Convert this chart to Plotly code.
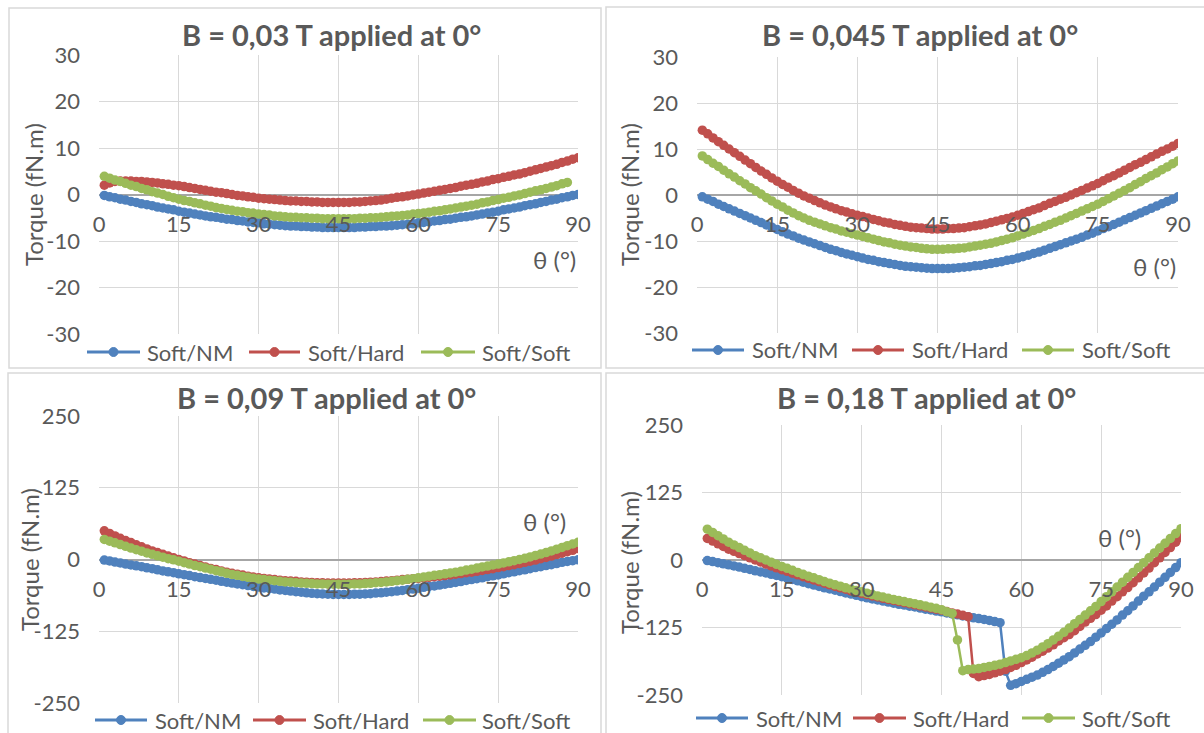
import plotly.graph_objects as go

theta = list(range(1, 91))
theta_p1_soft = list(range(1, 89))

# ---- Panel 1 : B = 0,03 T ----
p1_nm = [-0.2, -0.5, -0.7, -1.0, -1.2, -1.5, -1.7, -2.0, -2.2, -2.4, -2.7, -2.9, -3.1, -3.3, -3.6, -3.8, -4.0, -4.2, -4.4, -4.6,
         -4.8, -4.9, -5.1, -5.3, -5.4, -5.6, -5.7, -5.9, -6.0, -6.1, -6.3, -6.4, -6.5, -6.6, -6.7, -6.8, -6.8, -6.9, -6.9, -7.0,
         -7.0, -7.1, -7.1, -7.1, -7.1, -7.1, -7.1, -7.1, -7.0, -7.0, -6.9, -6.9, -6.8, -6.8, -6.7, -6.6, -6.5, -6.4, -6.3, -6.1,
         -6.0, -5.9, -5.7, -5.6, -5.4, -5.3, -5.1, -4.9, -4.8, -4.6, -4.4, -4.2, -4.0, -3.8, -3.6, -3.3, -3.1, -2.9, -2.7, -2.4,
         -2.2, -2.0, -1.7, -1.5, -1.2, -1.0, -0.7, -0.5, -0.2, 0.0]
p1_hard = [2.0, 2.5, 2.8, 2.9, 2.9, 2.9, 2.8, 2.8, 2.7, 2.6, 2.5, 2.3, 2.2, 2.0, 1.9, 1.7, 1.5, 1.3, 1.1, 0.9,
           0.7, 0.5, 0.4, 0.2, 0.0, -0.2, -0.3, -0.5, -0.6, -0.8, -0.9, -1.0, -1.1, -1.2, -1.3, -1.4, -1.4, -1.5, -1.5, -1.6,
           -1.6, -1.7, -1.7, -1.7, -1.7, -1.7, -1.7, -1.6, -1.6, -1.5, -1.4, -1.3, -1.2, -1.0, -0.8, -0.6, -0.5, -0.3, -0.1, 0.1,
           0.3, 0.5, 0.7, 0.9, 1.1, 1.3, 1.5, 1.8, 2.0, 2.2, 2.4, 2.7, 2.9, 3.2, 3.4, 3.7, 3.9, 4.2, 4.4, 4.7,
           5.0, 5.3, 5.6, 5.9, 6.2, 6.5, 6.9, 7.2, 7.6, 7.9]
p1_soft = [3.9, 3.5, 3.1, 2.8, 2.4, 2.0, 1.7, 1.3, 1.0, 0.6, 0.3, 0.0, -0.4, -0.7, -1.0, -1.3, -1.5, -1.8, -2.0, -2.3,
           -2.5, -2.8, -3.0, -3.2, -3.4, -3.6, -3.7, -3.9, -4.0, -4.2, -4.3, -4.4, -4.6, -4.7, -4.8, -4.9, -4.9, -5.0, -5.0, -5.1,
           -5.1, -5.2, -5.2, -5.2, -5.2, -5.2, -5.2, -5.2, -5.1, -5.1, -5.0, -5.0, -4.9, -4.8, -4.7, -4.6, -4.5, -4.4, -4.2, -4.1,
           -4.0, -3.8, -3.6, -3.5, -3.3, -3.1, -2.9, -2.7, -2.5, -2.3, -2.1, -1.8, -1.6, -1.3, -1.1, -0.8, -0.6, -0.3, -0.1, 0.2,
           0.5, 0.8, 1.0, 1.3, 1.6, 1.9, 2.3, 2.6]

# ---- Panel 2 : B = 0,045 T ----
p2_nm = [-0.4, -0.9, -1.4, -2.0, -2.5, -3.0, -3.5, -4.0, -4.5, -5.0, -5.5, -6.0, -6.5, -7.0, -7.5, -8.0, -8.5, -8.9, -9.4, -9.8,
         -10.2, -10.6, -11.0, -11.4, -11.8, -12.1, -12.5, -12.8, -13.1, -13.4, -13.7, -14.0, -14.2, -14.5, -14.7, -14.9, -15.1, -15.3, -15.5, -15.6,
         -15.7, -15.8, -15.9, -16.0, -16.0, -16.0, -16.0, -15.9, -15.8, -15.7, -15.6, -15.4, -15.3, -15.1, -14.9, -14.7, -14.5, -14.2, -14.0, -13.7,
         -13.4, -13.1, -12.7, -12.4, -12.0, -11.6, -11.2, -10.8, -10.4, -10.0, -9.6, -9.2, -8.7, -8.3, -7.8, -7.3, -6.9, -6.4, -5.9, -5.4,
         -4.9, -4.4, -3.9, -3.4, -2.9, -2.4, -1.9, -1.4, -0.9, -0.4]
p2_hard = [14.1, 13.3, 12.4, 11.6, 10.8, 10.0, 9.2, 8.4, 7.6, 6.8, 6.0, 5.2, 4.5, 3.7, 3.0, 2.3, 1.7, 1.0, 0.4, -0.2,
           -0.7, -1.2, -1.7, -2.2, -2.6, -3.0, -3.4, -3.7, -4.1, -4.4, -4.7, -5.0, -5.3, -5.6, -5.9, -6.1, -6.4, -6.6, -6.8, -7.0,
           -7.1, -7.2, -7.3, -7.4, -7.4, -7.4, -7.3, -7.3, -7.2, -7.1, -6.9, -6.7, -6.5, -6.3, -6.0, -5.7, -5.4, -5.1, -4.8, -4.4,
           -4.0, -3.6, -3.2, -2.8, -2.3, -1.8, -1.4, -0.9, -0.5, 0.0, 0.5, 1.0, 1.5, 2.0, 2.5, 3.1, 3.7, 4.2, 4.8, 5.4,
           6.0, 6.6, 7.1, 7.7, 8.3, 8.9, 9.5, 10.0, 10.6, 11.2]
p2_soft = [8.5, 7.7, 6.9, 6.2, 5.4, 4.6, 3.9, 3.1, 2.4, 1.6, 0.9, 0.2, -0.6, -1.3, -2.0, -2.6, -3.3, -3.9, -4.5, -5.0,
           -5.5, -5.9, -6.3, -6.7, -7.1, -7.4, -7.8, -8.1, -8.4, -8.7, -9.0, -9.3, -9.6, -9.9, -10.2, -10.4, -10.7, -10.9, -11.1, -11.3,
           -11.4, -11.6, -11.7, -11.8, -11.8, -11.8, -11.7, -11.7, -11.6, -11.5, -11.3, -11.1, -10.9, -10.7, -10.5, -10.2, -9.9, -9.6, -9.3, -8.9,
           -8.5, -8.1, -7.7, -7.3, -6.8, -6.4, -5.9, -5.5, -5.0, -4.5, -4.0, -3.5, -3.0, -2.5, -2.0, -1.4, -0.8, -0.2, 0.4, 1.0,
           1.6, 2.3, 2.9, 3.6, 4.2, 4.8, 5.5, 6.1, 6.8, 7.4]

# ---- Panel 3 : B = 0,09 T ----
p3_nm = [-1, -2.5, -4.5, -6, -8, -9.5, -11, -12.5, -14.5, -16, -18, -20, -21.5, -23, -25, -26.5, -28, -30, -31.5, -33,
         -34.5, -36, -38, -39.5, -41, -42.5, -44, -45.5, -47, -48, -49.5, -50.5, -51.5, -53, -54, -55, -56, -57, -58, -59,
         -59.5, -60, -60.5, -61, -61, -61, -61, -60.5, -60.5, -60, -59.5, -58.5, -58, -57, -56, -55, -54, -52.5, -51.5, -50,
         -48.5, -47, -46, -44.5, -43, -41.5, -40, -38.5, -36.5, -35, -33.5, -32, -30, -28.5, -27, -25, -23, -21.5, -19.5, -18,
         -16, -14, -12.5, -10.5, -9, -7, -5, -3.5, -2, -0.5]
p3_hard = [50, 45.5, 41, 37, 33, 29.5, 25.5, 22, 18.5, 15, 12, 9, 6, 3, 0, -2.5, -5.5, -8, -10.5, -13,
           -15.5, -17.5, -20, -22, -24, -25.5, -27, -29, -30.5, -32, -33, -34, -35, -36, -37, -37.5, -38, -39, -39.5, -40,
           -40.5, -40.5, -41, -41, -41, -41, -41, -40.5, -40.5, -40, -39.5, -39, -38.5, -37.5, -37, -36, -35, -34.5, -33.5, -33,
           -32, -31, -30, -29, -28, -27, -25.5, -24.5, -23, -22, -20.5, -19, -17.5, -16, -14, -12.5, -10.5, -9, -7, -5,
           -3, -1, 1.5, 3.5, 6, 8.5, 11, 13.5, 16, 19]
p3_soft = [35, 32, 29, 26, 23, 20, 17, 14.5, 11.5, 9, 6.5, 4, 1.5, -0.5, -3, -5.5, -8, -10.5, -12.5, -15,
           -17, -19.5, -21.5, -24, -26, -27.5, -29.5, -31, -32.5, -34, -35, -36, -37, -38, -39, -39.5, -40.5, -41, -41.5, -42,
           -42.5, -42.5, -43, -43, -43, -43, -43, -42.5, -42.5, -42, -41.5, -40.5, -40, -39, -38, -37, -36, -34.5, -33.5, -32,
           -30.5, -29, -27.5, -26.5, -25, -23.5, -22, -20.5, -18.5, -17, -15, -13, -11.5, -9.5, -8, -6, -4, -2, 0, 2,
           4.5, 7, 9.5, 12, 15, 18, 21, 24, 27, 30]

# ---- Panel 4 : B = 0,18 T ----
p4_nm = [-1, -3, -5, -7, -9, -11, -13, -15.5, -17.5, -20, -22, -24, -26.5, -28.5, -31, -33.5, -36, -38.5, -41, -44,
         -46.5, -49, -51.5, -53.5, -56, -58.5, -61, -63, -65.5, -68, -70, -72, -74, -76, -78, -80, -82, -83.5, -85.5, -87,
         -89, -91, -92.5, -94.5, -96, -98, -100, -101.5, -103.5, -105, -107, -108.5, -110, -112, -114, -116, -206, -232, -229, -225,
         -221, -217, -213, -208, -203, -197, -191, -185, -179, -172, -165, -158, -151, -143, -135, -127, -119, -111, -102, -94,
         -85, -76, -67, -59, -50, -41, -32, -23, -14, -5]
p4_hard = [40, 35, 30, 25, 20, 16, 12, 8, 4, 0, -3.5, -7.5, -11, -14.5, -18, -21, -24.5, -27.5, -31, -34,
           -37, -40, -43, -46, -49, -51.5, -54, -57, -59.5, -62, -64, -66.5, -68.5, -71, -73, -75, -77, -79, -81, -83,
           -85, -87, -89, -91, -93, -95.5, -98, -100, -102.5, -105, -210, -216, -214, -212, -209, -206, -203, -199, -195, -190,
           -185, -180, -174, -169, -163, -157, -150, -144, -138, -131, -123, -115, -108, -101, -93, -85, -76, -68, -59, -51,
           -42, -33, -24, -15, -5, 4, 14, 23, 33, 42]
p4_soft = [57, 51, 45, 39, 33, 28, 23, 18, 13, 8, 4, 0, -4, -8, -12, -15.5, -19, -23, -26.5, -30,
           -33, -36.5, -40, -43, -46, -48.5, -51.5, -54, -56.5, -59, -61.5, -64, -66.5, -68.5, -71, -73, -75, -77, -79, -81,
           -83, -85, -87.5, -89.5, -92, -96, -99, -148, -205, -203, -202, -201, -199, -197, -195, -193, -190, -187, -184, -181,
           -177, -172, -167, -161, -155, -148, -141, -134, -126, -118, -110, -102, -94, -86, -77, -68, -59, -50, -41, -32,
           -23, -14, -5, 4, 13, 22, 31, 40, 49, 58]

titles = ["B = 0,03 T applied at 0°", "B = 0,045 T applied at 0°",
          "B = 0,09 T applied at 0°", "B = 0,18 T applied at 0°"]
series_names = ["Soft/NM", "Soft/Hard", "Soft/Soft"]
colors = ["#4F81BD", "#C0504D", "#9BBB59"]
x_ticks = [0, 15, 30, 45, 60, 75, 90]
y_ticks_small = [-30, -20, -10, 0, 10, 20, 30]
y_ticks_large = [-250, -125, 0, 125, 250]

W, H = 1204, 733
FONT = "Lato"
GRAY = "#595959"

def fx(px):
    return px / W

def fy(py):
    return 1 - py / H

# panel geometry (pixels)
panels = [
    dict(x=(99, 578), y=(334, 55), rng=(-30, 30), ticks=y_ticks_small,
         title=(331, 34), ytitle=(33, 195), theta=(90, -14),
         legend=dict(y=352, lines=[(87, 140), (249, 300), (421, 475)], text=[145, 306, 480])),
    dict(x=(697, 1178), y=(333, 57), rng=(-30, 30), ticks=y_ticks_small,
         title=(920, 34), ytitle=(629, 195), theta=(90, -15.6),
         legend=dict(y=350, lines=[(692, 744), (852, 904), (1022, 1074)], text=[750, 910, 1080])),
    dict(x=(99, 578), y=(703, 416), rng=(-250, 250), ticks=y_ticks_large,
         title=(326, 397), ytitle=(29, 560), theta=(88.1, 66),
         legend=dict(y=720, lines=[(95, 147), (253, 306), (423, 476)], text=[153, 311, 480])),
    dict(x=(702, 1181), y=(695, 425), rng=(-250, 250), ticks=y_ticks_large,
         title=(926, 397), ytitle=(629, 563), theta=(82.9, 41),
         legend=dict(y=718, lines=[(696, 748), (853, 906), (1022, 1075)], text=[754, 911, 1080])),
]

data = [
    [(theta, p1_nm), (theta, p1_hard), (theta_p1_soft, p1_soft)],
    [(theta, p2_nm), (theta, p2_hard), (theta, p2_soft)],
    [(theta, p3_nm), (theta, p3_hard), (theta, p3_soft)],
    [(theta, p4_nm), (theta, p4_hard), (theta, p4_soft)],
]

fig = go.Figure()
layout = dict(width=W, height=H, margin=dict(l=0, r=0, t=0, b=0, pad=0),
              paper_bgcolor="white", plot_bgcolor="white",
              font=dict(family=FONT, color=GRAY), showlegend=False)
annotations = []
shapes = []

for i, p in enumerate(panels):
    k = "" if i == 0 else str(i + 1)
    ydom = [fy(p["y"][0]), fy(p["y"][1])]
    layout["xaxis" + k] = dict(
        domain=[fx(p["x"][0]), fx(p["x"][1])], range=[0, 90],
        tickvals=x_ticks, ticktext=[str(v) for v in x_ticks],
        showgrid=True, gridcolor="#D9D9D9", gridwidth=1,
        zeroline=False, showline=False, ticks="",
        anchor="free", position=(ydom[0] + ydom[1]) / 2,
        ticklabelstandoff=14, automargin=False,
        tickfont=dict(family=FONT, size=22, color=GRAY),
    )
    layout["yaxis" + k] = dict(
        domain=ydom, range=list(p["rng"]), tickvals=p["ticks"],
        ticktext=[str(v) for v in p["ticks"]],
        showgrid=True, gridcolor="#D9D9D9", gridwidth=1,
        zeroline=True, zerolinecolor="#A6A6A6", zerolinewidth=1.5,
        showline=False, ticks="", anchor="x" + k,
        ticklabelstandoff=18, automargin=False,
        tickfont=dict(family=FONT, size=22, color=GRAY),
    )
    for j, (xs, ys) in enumerate(data[i]):
        fig.add_trace(go.Scatter(
            x=xs, y=ys, mode="lines+markers", name=series_names[j],
            line=dict(color=colors[j], width=2.5),
            marker=dict(color=colors[j], size=9.5),
            xaxis="x" + k, yaxis="y" + k, showlegend=False,
        ))
    annotations.append(dict(text="<b>" + titles[i] + "</b>", xref="paper", yref="paper",
                            x=fx(p["title"][0]), y=fy(p["title"][1]), xanchor="center", yanchor="middle",
                            showarrow=False, font=dict(family=FONT, size=29, color=GRAY)))
    annotations.append(dict(text="Torque (fN.m)", xref="paper", yref="paper", textangle=-90,
                            x=fx(p["ytitle"][0]), y=fy(p["ytitle"][1]), xanchor="center", yanchor="middle",
                            showarrow=False, font=dict(family=FONT, size=24, color=GRAY)))
    annotations.append(dict(text="θ (°)", xref="x" + k, yref="y" + k,
                            x=p["theta"][0], y=p["theta"][1], xanchor="right", yanchor="middle",
                            showarrow=False, font=dict(family=FONT, size=24, color=GRAY)))
    # legend (drawn manually, Excel style: long line with a dot in the middle)
    lg = p["legend"]
    ly = fy(lg["y"])
    for j in range(3):
        lx0, lx1 = lg["lines"][j]
        shapes.append(dict(type="line", xref="paper", yref="paper",
                           x0=fx(lx0), x1=fx(lx1), y0=ly, y1=ly,
                           line=dict(color=colors[j], width=3)))
        cx = (lx0 + lx1) / 2
        shapes.append(dict(type="circle", xref="paper", yref="paper",
                           x0=fx(cx - 4.5), x1=fx(cx + 4.5), y0=fy(lg["y"] + 4.5), y1=fy(lg["y"] - 4.5),
                           fillcolor=colors[j], line=dict(color=colors[j], width=1)))
        annotations.append(dict(text=series_names[j], xref="paper", yref="paper",
                                x=fx(lg["text"][j]), y=ly, xanchor="left", yanchor="middle",
                                showarrow=False, font=dict(family=FONT, size=22, color=GRAY)))

# panel frames
frames = [(9, 8, 601, 368), (606, 7, 1210, 368), (8, 373, 601, 740), (606, 373, 1210, 740)]
for (x0, y0, x1, y1) in frames:
    shapes.append(dict(type="rect", xref="paper", yref="paper",
                       x0=fx(x0), x1=fx(x1), y0=fy(y1), y1=fy(y0),
                       line=dict(color="#D9D9D9", width=1.5), layer="below"))

layout["annotations"] = annotations
layout["shapes"] = shapes
fig.update_layout(**layout)
fig.write_html("out.html", config={"displayModeBar": False},
               post_script="document.body.style.margin='0px';document.body.style.overflow='hidden';")
